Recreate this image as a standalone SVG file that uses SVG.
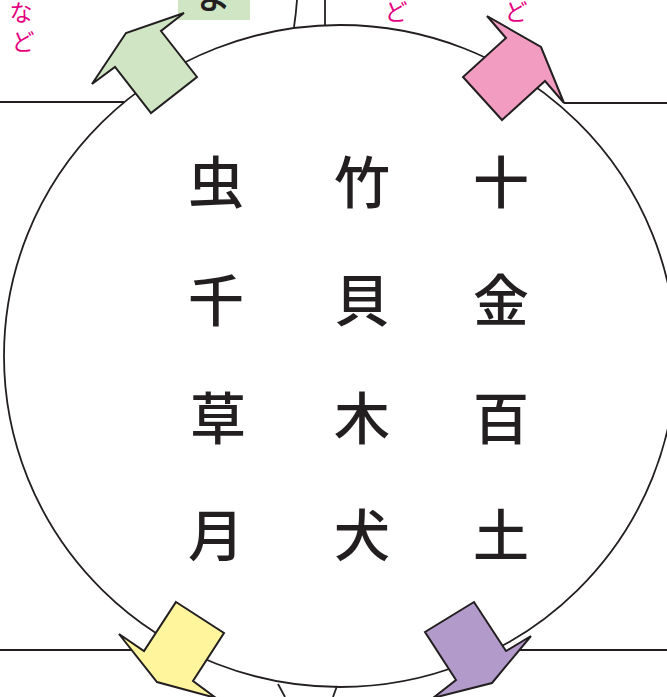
<svg xmlns="http://www.w3.org/2000/svg" width="667" height="697" viewBox="0 0 667 697">
<style>
.ln{fill:none;stroke:#231f20;stroke-width:1.8}
.ar{stroke:#231f20;stroke-width:2;stroke-linejoin:miter}
.k{font-family:"Noto Sans CJK JP","Noto Sans CJK SC",sans-serif;font-size:56px;font-weight:500;fill:#231f20;text-anchor:middle;dominant-baseline:central}
.m{font-family:"Noto Sans CJK JP",sans-serif;font-size:23px;fill:#e4007f;text-anchor:middle;dominant-baseline:central}
</style>
<rect width="667" height="697" fill="#fff"/>
<g id="connectors">
<line class="ln" x1="0" y1="102" x2="124" y2="102"/>
<line class="ln" x1="564" y1="103" x2="667" y2="103"/>
<line class="ln" x1="0" y1="650" x2="132" y2="650"/>
<line class="ln" x1="520" y1="650" x2="667" y2="650"/>
<path class="ln" d="M297 0 Q296 14 294 27"/>
<line class="ln" x1="325" y1="0" x2="325" y2="26"/>
<line class="ln" x1="278" y1="684" x2="285" y2="697"/>
<line class="ln" x1="337" y1="686" x2="333" y2="697"/>
</g>
<g id="circle">
<ellipse class="ln" cx="340" cy="356" rx="336" ry="331"/>
</g>
<g id="label-top">
<rect x="178" y="0" width="72" height="20" fill="#cfe5c4"/>
<text class="k" x="214" y="-6" style="font-size:34px">よ</text>
</g>
<g id="notes">
<text class="m" x="21" y="11">な</text>
<text class="m" x="23" y="40">ど</text>
<text class="m" x="396" y="10">ど</text>
<text class="m" x="516" y="10">ど</text>
</g>
<g id="arrow-green"><polygon class="ar" fill="#cfe5c4" points="184,13 161,31 197,77 151,113 115,67 92,84 126,33"/></g>
<g id="arrow-pink"><polygon class="ar" fill="#f39cc2" points="487,16 506,38 463,77 502,120 545,81 564,103 541,47"/></g>
<g id="arrow-yellow"><polygon class="ar" fill="#fff59d" points="176,602 224,633 193,681 216,698 157,682 119,634 144,651"/></g>
<g id="arrow-purple"><polygon class="ar" fill="#b29acb" points="474,602 425,632 456,680 433,698 492,683 531,636 506,651"/></g>
<g id="chars">
<text class="k" x="216" y="178">虫</text>
<text class="k" x="362" y="178">竹</text>
<text class="k" x="501" y="178">十</text>
<text class="k" x="216" y="296">千</text>
<text class="k" x="362" y="296">貝</text>
<text class="k" x="501" y="296">金</text>
<text class="k" x="218" y="414">草</text>
<text class="k" x="362" y="414">木</text>
<text class="k" x="501" y="414">百</text>
<text class="k" x="216" y="531">月</text>
<text class="k" x="362" y="531">犬</text>
<text class="k" x="501" y="531">土</text>
</g>
</svg>
